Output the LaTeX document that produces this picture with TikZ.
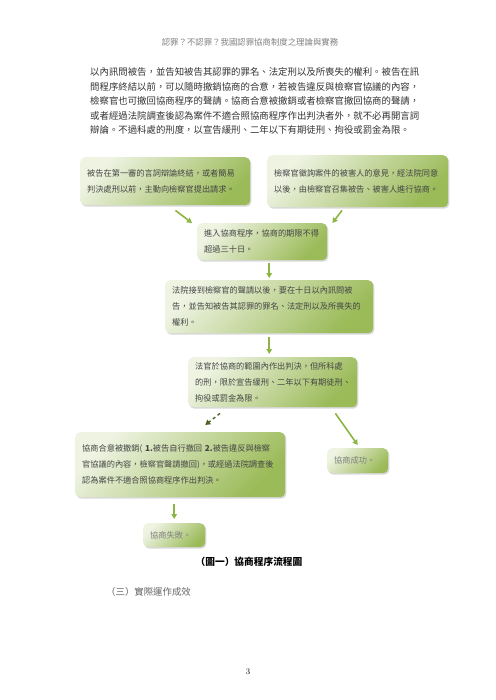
\documentclass[tikz,border=0pt]{standalone}
\usepackage{fontspec}
\newfontfamily\cjk{Noto Sans CJK TC}
\usetikzlibrary{arrows.meta,shadows}
\definecolor{boxlight}{HTML}{EEF3E2}
\definecolor{boxdark}{HTML}{9BBB59}
\definecolor{arrgreen}{HTML}{8DB543}
\definecolor{arrdark}{HTML}{4F6228}
\definecolor{boxtext}{HTML}{454545}
\definecolor{bodytext}{HTML}{333333}

\begin{document}
\begin{tikzpicture}[x=1pt, y=-1pt,
  box/.style={rounded corners=5pt, anchor=north west, top color=boxlight, bottom color=boxdark,
    shading angle=45, drop shadow={shadow xshift=1.2pt, shadow yshift=-1.5pt, opacity=.3},
    inner xsep=7pt, inner ysep=3pt, align=left, text=boxtext, font=\cjk\fontsize{8.2pt}{16pt}\selectfont},
  para/.style={anchor=west, inner sep=0pt, text=bodytext, font=\cjk\fontsize{9.4pt}{12pt}\selectfont},
  arr/.style={-{Triangle[length=5pt, width=5.5pt]}, line width=1.6pt, draw=arrgreen},
  darr/.style={-{Triangle[length=5pt, width=5.5pt]}, line width=1.4pt, draw=arrdark, dashed}]
\useasboundingbox[fill=white] (0,0) rectangle (495,700);
% page head and text
\node[text=gray, font=\cjk\fontsize{8.4pt}{10pt}\selectfont] (head) at (250,42) {認罪？不認罪？我國認罪協商制度之理論與實務};
\node[para] (p1) at (90,72) {以內訊問被告，並告知被告其認罪的罪名、法定刑以及所喪失的權利。被告在訊};
\node[para] (p2) at (90,86.5) {問程序終結以前，可以隨時撤銷協商的合意，若被告違反與檢察官協議的內容，};
\node[para] (p3) at (90,101) {檢察官也可撤回協商程序的聲請。協商合意被撤銷或者檢察官撤回協商的聲請，};
\node[para] (p4) at (90,115.5) {或者經過法院調查後認為案件不適合照協商程序作出判決者外，就不必再開言詞};
\node[para] (p5) at (90,130) {辯論。不過科處的刑度，以宣告緩刑、二年以下有期徒刑、拘役或罰金為限。};
% flow chart
\node[box, text width=156pt, minimum height=48pt] (b1) at (80,157) {被告在第一審的言詞辯論終結，或者簡易\\判決處刑以前，主動向檢察官提出請求。};
\node[box, text width=167pt, minimum height=52pt] (b2) at (267,155) {檢察官徵詢案件的被害人的意見，經法院同意\\以後，由檢察官召集被告、被害人進行協商。};
\node[box, text width=116pt, minimum height=37pt] (b3) at (197,223) {進入協商程序，協商的期限不得\\超過三十日。};
\node[box, text width=194pt, minimum height=53pt] (b4) at (165,280) {法院接到檢察官的聲請以後，要在十日以內訊問被\\告，並告知被告其認罪的罪名、法定刑以及所喪失的\\權利。};
\node[box, text width=155pt, minimum height=50pt] (b5) at (188,357) {法官於協商的範圍內作出判決，但所科處\\的刑，限於宣告緩刑、二年以下有期徒刑、\\拘役或罰金為限。};
\node[box, text width=196pt, minimum height=65pt] (b6) at (75,432) {協商合意被撤銷( \textbf{1.}被告自行撤回 \textbf{2.}被告違反與檢察\\官協議的內容，檢察官聲請撤回)，或經過法院調查後\\認為案件不適合照協商程序作出判決。};
\node[box, text width=47pt, minimum height=25pt, text=gray] (b7) at (327,448) {協商成功。};
\node[box, text width=48pt, minimum height=24pt, text=gray] (b8) at (143,523) {協商失敗。};
\draw[arr] ([xshift=-75pt,yshift=-5pt]b1.south east) -- ([xshift=-5pt]b3.north west);
\draw[arr] ([xshift=75pt,yshift=-3pt]b2.south west) -- ([xshift=5pt]b3.north east);
\draw[arr, shorten <=3pt, shorten >=2pt] (b4.north |- b3.south) -- (b4.north);
\draw[arr, shorten <=4pt, shorten >=3pt] (b4.south) -- (b4.south |- b5.north);
\draw[darr] ([xshift=32pt,yshift=-6pt]b5.south west) -- ([xshift=25pt,yshift=7pt]b6.north);
\draw[arr] ([xshift=-22pt,yshift=-6pt]b5.south east) -- ([yshift=3pt]b7.north);
\draw[arr, shorten <=7pt, shorten >=4pt] (b8.north |- b6.south) -- (b8.north);
% caption and rest of page
\node[font=\cjk\bfseries\fontsize{9.7pt}{12pt}\selectfont] (cap) at (249,562) {（圖一）協商程序流程圖};
\node[para, text=gray!80!black] (sec) at (106,592) {（三）實際運作成效};
\node[font=\fontsize{8.5pt}{10pt}\selectfont] (pgno) at (248,672) {3};
\end{tikzpicture}
\end{document}
